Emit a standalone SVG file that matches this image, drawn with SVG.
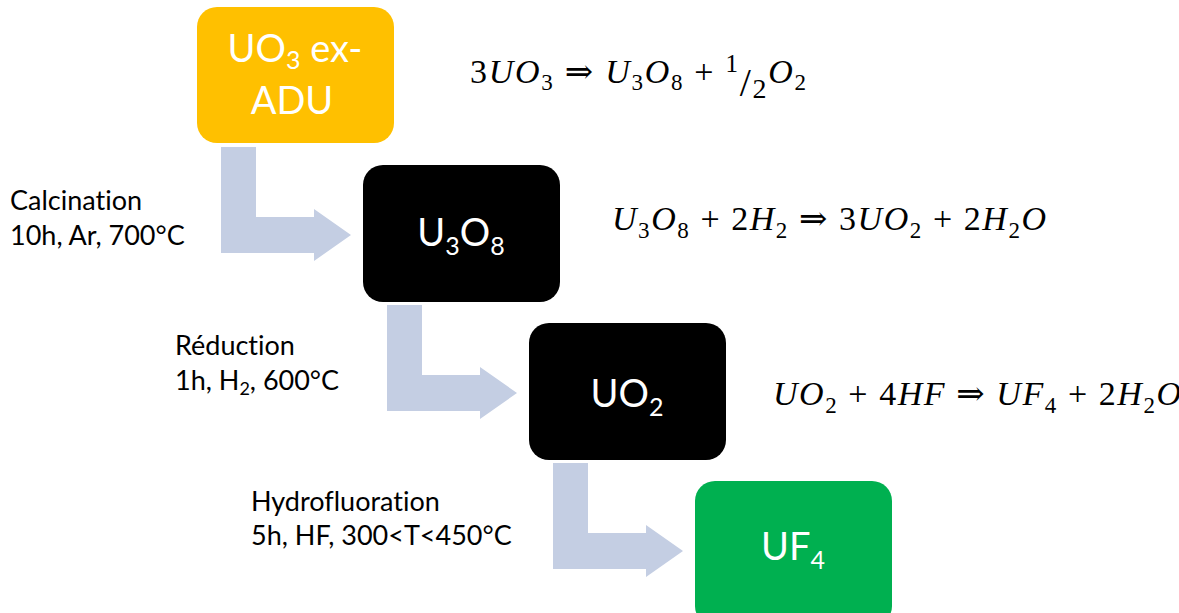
<svg xmlns="http://www.w3.org/2000/svg" width="1179" height="613" viewBox="0 0 1179 613">
<style>
.box{stroke:none}
.bt{font-family:Lato,"Liberation Sans",sans-serif;font-size:38px;fill:#fff;text-anchor:middle}
.lb{font-family:Lato,"Liberation Sans",sans-serif;font-size:27px;fill:#000;font-variant-ligatures:none}
.eq{font-family:"Liberation Serif","DejaVu Serif",serif;font-size:34px;fill:#000}
.it{font-style:italic}
.sb{font-size:23px}
.arr{fill:#C4CEE3}
</style>
<rect width="1179" height="613" fill="#fff"/>
<g id="connectors">
<path class="arr" d="M221,147 H256 V217 H314 V209 L351,235 L314,261 V253 H221 Z"/>
<path class="arr" d="M387,305 H422 V375 H480 V367 L517,393 L480,419 V411 H387 Z"/>
<path class="arr" d="M553,463 H588 V533 H646 V525 L683,551 L646,577 V569 H553 Z"/>
</g>
<g id="node-uo3">
<rect class="box" x="197" y="7" width="197" height="136" rx="20" fill="#FFC000"/>
<text class="bt" x="295" y="62">UO<tspan font-size="25px" dy="7">3</tspan><tspan dy="-7"> ex-</tspan><tspan x="292" y="114">ADU</tspan></text>
</g>
<g id="node-u3o8">
<rect class="box" x="363" y="165" width="197" height="137" rx="20" fill="#000"/>
<text class="bt" x="461" y="246">U<tspan font-size="25px" dy="9">3</tspan><tspan dy="-9">O</tspan><tspan font-size="25px" dy="9">8</tspan></text>
</g>
<g id="node-uo2">
<rect class="box" x="529" y="323" width="197" height="137" rx="20" fill="#000"/>
<text class="bt" x="627" y="407">UO<tspan font-size="25px" dy="9">2</tspan></text>
</g>
<g id="node-uf4">
<rect class="box" x="695" y="481" width="197" height="145" rx="20" fill="#00B050"/>
<text class="bt" x="793" y="560">UF<tspan font-size="25px" dy="9">4</tspan></text>
</g>
<g id="labels">
<text class="lb" x="10" y="210">Calcination</text>
<text class="lb" x="10" y="245">10h, Ar, 700°C</text>
<text class="lb" x="175" y="355">Réduction</text>
<text class="lb" x="175" y="390">1h, H<tspan font-size="18px" dy="5">2</tspan><tspan dy="-5">, 600°C</tspan></text>
<text class="lb" x="251" y="511">Hydrofluoration</text>
<text class="lb" x="251" y="545">5h, HF, 300&lt;T&lt;450°C</text>
</g>
<g id="eq1">
<text class="eq" x="470" y="83" textLength="336" lengthAdjust="spacing">3<tspan class="it">UO</tspan><tspan class="sb" dy="7">3</tspan><tspan dy="-7"> ⇒ </tspan><tspan class="it">U</tspan><tspan class="sb" dy="7">3</tspan><tspan class="it" dy="-7">O</tspan><tspan class="sb" dy="7">8</tspan><tspan dy="-7"> + </tspan><tspan font-size="25px" dy="-11">1</tspan><tspan font-size="40px" dy="24">/</tspan><tspan font-size="28px" dy="2">2</tspan><tspan class="it" dy="-15">O</tspan><tspan class="sb" dy="7">2</tspan></text>
</g>
<g id="eq2">
<text class="eq" x="612" y="230" textLength="434" lengthAdjust="spacing"><tspan class="it">U</tspan><tspan class="sb" dy="8">3</tspan><tspan class="it" dy="-8">O</tspan><tspan class="sb" dy="8">8</tspan><tspan dy="-8"> + 2</tspan><tspan class="it">H</tspan><tspan class="sb" dy="8">2</tspan><tspan dy="-8"> ⇒ 3</tspan><tspan class="it">UO</tspan><tspan class="sb" dy="8">2</tspan><tspan dy="-8"> + 2</tspan><tspan class="it">H</tspan><tspan class="sb" dy="8">2</tspan><tspan class="it" dy="-8">O</tspan></text>
</g>
<g id="eq3">
<text class="eq" x="773" y="405" textLength="408" lengthAdjust="spacing"><tspan class="it">UO</tspan><tspan class="sb" dy="8">2</tspan><tspan dy="-8"> + 4</tspan><tspan class="it">HF</tspan><tspan> ⇒ </tspan><tspan class="it">UF</tspan><tspan class="sb" dy="8">4</tspan><tspan dy="-8"> + 2</tspan><tspan class="it">H</tspan><tspan class="sb" dy="8">2</tspan><tspan class="it" dy="-8">O</tspan></text>
</g>
</svg>
